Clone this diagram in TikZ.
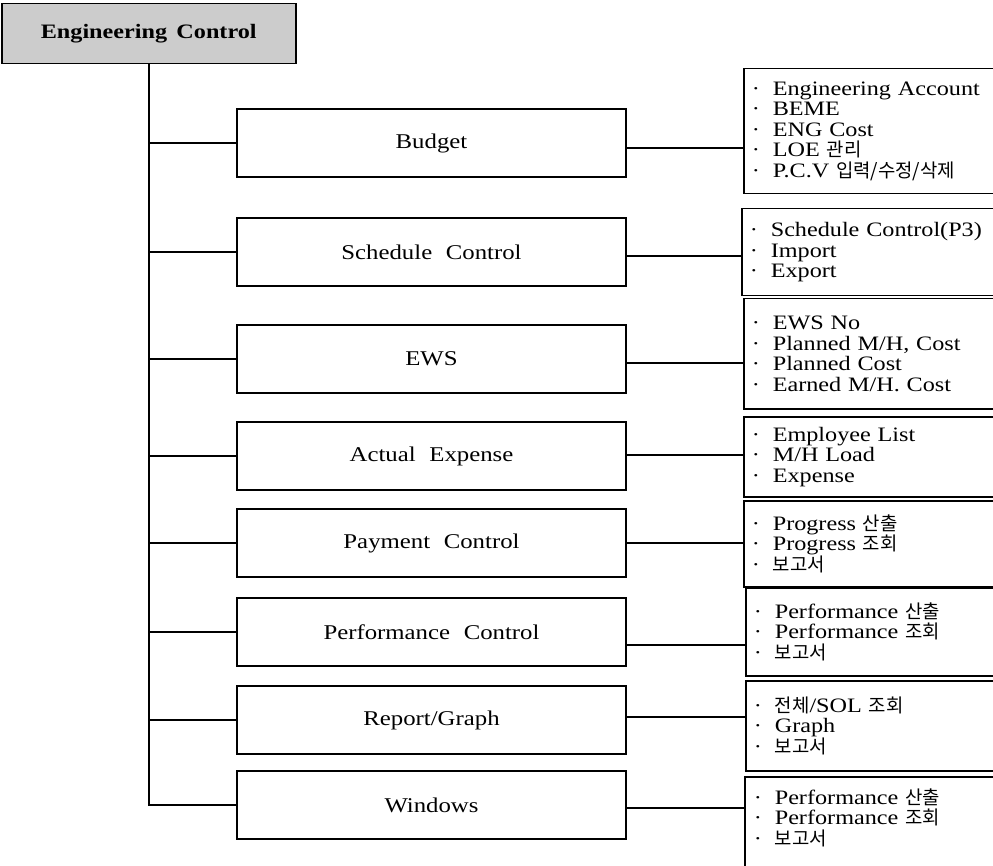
\documentclass[tikz,border=0pt]{standalone}
\usepackage{fontspec}
\setmainfont{Liberation Serif}[FakeStretch=1.18,WordSpace=2.2]
\newfontfamily\kr{Noto Sans CJK KR}[Scale=0.92]
\newcommand\itm{·\hspace{13pt}}
\begin{document}
\begin{tikzpicture}[x=1pt,y=-1pt]
\tikzset{
  line/.style={line width=1.5pt, black},
  headbox/.style={draw, line width=1.5pt, fill=black!20, anchor=north west,
    minimum width=294pt, minimum height=60pt, inner sep=0pt,
    font=\fontsize{20.5}{24}\selectfont\bfseries},
  midbox/.style={draw, line width=1.5pt, minimum width=389pt, minimum height=68pt,
    inner sep=0pt, font=\fontsize{21}{24}\selectfont},
  listbox/.style={draw, line width=1.5pt, anchor=north west, text width=260pt,
    align=left, inner xsep=8pt, inner ysep=0pt,
    font=\fontsize{20.5}{20.6}\selectfont},
}
\useasboundingbox (0,0) rectangle (993,866);
\clip (0,0) rectangle (993,866);

% root
\node[headbox] (hdr) at (1,3) {Engineering\hspace{-4pt} Control};

% functional groups
\node[midbox] (m1) at (431.5,143) {Budget};
\node[midbox] (m2) at (431.5,252) {Schedule Control};
\node[midbox] (m3) at (431.5,359) {EWS};
\node[midbox] (m4) at (431.5,456) {Actual Expense};
\node[midbox] (m5) at (431.5,543) {Payment Control};
\node[midbox] (m6) at (431.5,632) {Performance Control};
\node[midbox] (m7) at (431.5,720) {Report/Graph};
\node[midbox] (m8) at (431.5,805) {Windows};

% item lists
\node[listbox, minimum height=125pt] (r1) at (743,68)
  {\itm Engineering Account\\\itm BEME\\\itm ENG Cost\\\itm LOE {\kr 관리}\\\itm P.C.V {\kr 입력/수정/삭제}};
\node[listbox, minimum height=87pt] (r2) at (741,208)
  {\itm Schedule Control(P3)\\\itm Import\\\itm Export};
\node[listbox, minimum height=110pt] (r3) at (743,298)
  {\itm EWS No\\\itm Planned M/H, Cost\\\itm Planned Cost\\\itm Earned M/H. Cost};
\node[listbox, minimum height=80pt] (r4) at (743,416)
  {\itm Employee List\\\itm M/H Load\\\itm Expense};
\node[listbox, minimum height=86pt] (r5) at (743,500)
  {\itm Progress {\kr 산출}\\\itm Progress {\kr 조회}\\\itm {\kr 보고서}};
\node[listbox, minimum height=88pt] (r6) at (745,587)
  {\itm Performance {\kr 산출}\\\itm Performance {\kr 조회}\\\itm {\kr 보고서}};
\node[listbox, minimum height=90pt] (r7) at (745,680)
  {\itm {\kr 전체}/SOL {\kr 조회}\\\itm Graph\\\itm {\kr 보고서}};
\node[listbox, draw=none, minimum height=80pt] (r8) at (745,777)
  {\itm Performance {\kr 산출}\\\itm Performance {\kr 조회}\\\itm {\kr 보고서}};
\draw[line] ([yshift=-30pt]r8.south west) -- (r8.north west) -- (r8.north east);

% tree trunk and branches
\draw[line] (hdr.south) -- (hdr.south |- m8.west) -- (m8.west);
\foreach \m in {m1,m2,m3,m4,m5,m6,m7}
  \draw[line] (hdr.south |- \m.west) -- (\m.west);

% links to item lists
\draw[line] (m1.east |- 0,148) -- (r1.west |- 0,148);
\draw[line] (m2.east |- 0,256) -- (r2.west |- 0,256);
\draw[line] (m3.east |- 0,363) -- (r3.west |- 0,363);
\draw[line] (m4.east |- 0,455) -- (r4.west |- 0,455);
\draw[line] (m5.east |- 0,543) -- (r5.west |- 0,543);
\draw[line] (m6.east |- 0,645) -- (r6.west |- 0,645);
\draw[line] (m7.east |- 0,717) -- (r7.west |- 0,717);
\draw[line] (m8.east |- 0,808) -- (r8.west |- 0,808);
\end{tikzpicture}
\end{document}
